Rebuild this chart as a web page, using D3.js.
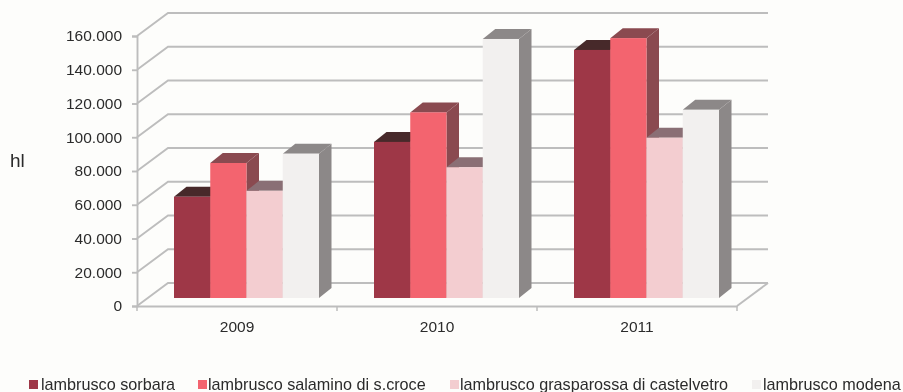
<!DOCTYPE html>
<html><head><meta charset="utf-8">
<script src="https://cdn.jsdelivr.net/npm/d3@7"></script>
<style>
html,body{margin:0;padding:0;background:#fdfdfb}
svg{display:block;filter:blur(0.5px)}
text{font-family:"Liberation Sans",Arial,sans-serif;fill:#2b2b2b}
</style></head><body>
<svg id="c" width="903" height="392"></svg>
<script>
const years = ["2009","2010","2011"];
const seriesNames = ["lambrusco sorbara","lambrusco salamino di s.croce","lambrusco grasparossa di castelvetro","lambrusco modena"];
const sorbara = [60000,92500,147000];
const salamino = [80000,110000,154000];
const grasparossa = [63500,77500,95000];
const modena = [85500,153500,111500];
const seriesValues = [sorbara,salamino,grasparossa,modena];
const yTicks = [0,20000,40000,60000,80000,100000,120000,140000,160000];
const frontColors = ["#9e3747","#f3646f","#f3cdd0","#f2f0ef"];
const topColors = ["#47292a","#8a4a50","#8a6f75","#8c8888"];
const sideColors = ["#6e2a33","#8a4a50","#8a6f75","#8c8888"];
const legendSwatchX = [29,198,450,752];
const legendTextX = [41,208,460,763];

const svg = d3.select("#c");
const L=137,R=737,B=306,T=36, DX=31, DY=23;
const x = d3.scaleBand().domain(years).range([L,R]);
const y = d3.scaleLinear().domain([0,160000]).range([B,T]);
const gridC="#bdbdbd";
const fmt = d3.formatLocale({decimal:",",thousands:".",grouping:[3],currency:["",""]}).format(",d");
const ff='"Liberation Sans",Arial,sans-serif';

// walls
const grid = svg.append("g").attr("fill","none").attr("stroke",gridC).attr("stroke-width",1.9);
yTicks.forEach(v=>{
  grid.append("polyline").attr("points",[[L,y(v)],[L+DX,y(v)-DY],[R+DX,y(v)-DY]].join(" "));
});
grid.append("line").attr("x1",R).attr("y1",B).attr("x2",R+DX).attr("y2",B-DY);

// axes
const ya = svg.append("g").attr("transform",`translate(${L},0)`)
  .call(d3.axisLeft(y).tickValues(yTicks).tickFormat(fmt).tickSize(5).tickPadding(10));
ya.selectAll("path,line").attr("stroke",gridC).attr("stroke-width",1.9);
ya.selectAll("text").attr("font-size",15.5).style("font-family",ff);

const xa = svg.append("g").attr("transform",`translate(0,${B})`)
  .call(d3.axisBottom(x).tickSize(0).tickPadding(15));
xa.select("path").attr("stroke",gridC).attr("stroke-width",1.9);
xa.selectAll("text").attr("font-size",15.5).style("font-family",ff);
years.forEach(c=>{
  xa.append("line").attr("x1",x(c)).attr("x2",x(c)).attr("y1",0).attr("y2",5).attr("stroke",gridC).attr("stroke-width",1.5);
});
xa.append("line").attr("x1",R).attr("x2",R).attr("y1",0).attr("y2",5).attr("stroke",gridC).attr("stroke-width",1.5);

// bars
const bx = d3.scaleBand().domain(d3.range(seriesNames.length)).range([0,145]);
const barOffX=37, dep=[12.5,10], base=8;
const bars = svg.append("g");
years.forEach((c,ci)=>{
  seriesValues.forEach((vals,si)=>{
    const x0=x(c)+barOffX+bx(si), x1=x0+bx.bandwidth();
    const yb=y(0)-base, yt=y(vals[ci])-base;
    const g=bars.append("g");
    g.append("path").attr("fill",sideColors[si])
      .attr("d",d3.line()([[x1,yb],[x1+dep[0],yb-dep[1]],[x1+dep[0],yt-dep[1]],[x1,yt]])+"Z");
    g.append("path").attr("fill",topColors[si])
      .attr("d",d3.line()([[x0,yt],[x0+dep[0],yt-dep[1]],[x1+dep[0],yt-dep[1]],[x1,yt]])+"Z");
    g.append("rect").attr("x",x0).attr("y",yt).attr("width",x1-x0).attr("height",yb-yt).attr("fill",frontColors[si]);
  });
});

svg.append("text").attr("x",10).attr("y",167).attr("font-size",19).text("hl");

// legend
seriesNames.forEach((n,i)=>{
  svg.append("rect").attr("x",legendSwatchX[i]).attr("y",380).attr("width",9).attr("height",9).attr("fill",frontColors[i]);
  svg.append("text").attr("x",legendTextX[i]).attr("y",390).attr("font-size",16.2).text(n);
});
</script></body></html>
